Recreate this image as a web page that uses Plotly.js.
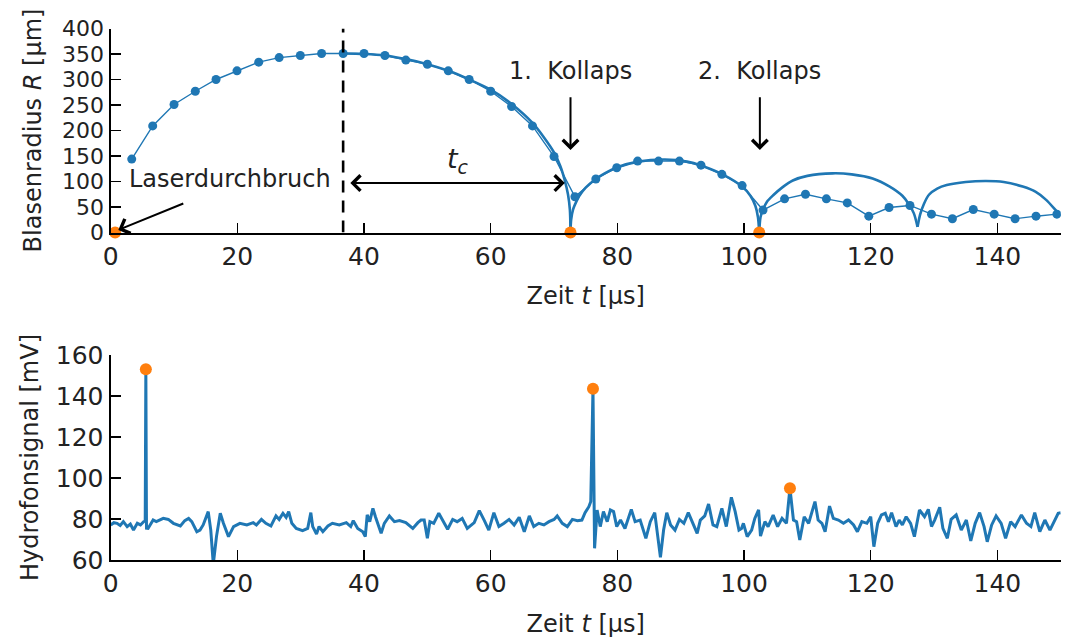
<!DOCTYPE html>
<html>
<head>
<meta charset="utf-8">
<script src="https://cdn.plot.ly/plotly-3.0.1.min.js"></script>
<style>html,body{margin:0;padding:0;background:#fff;}#chart{width:1066px;height:644px;}</style>
</head>
<body>
<div id="chart"></div>
<script>
// ---- Top: bubble radius from high-speed frames ----
const tFrames = [3.32,6.63,10.0,13.36,16.63,19.94,23.37,26.6,29.94,33.3,36.7,40.0,43.3,46.6,50.0,53.3,56.6,60.0,63.3,66.6,70.0,73.3,76.6,79.9,83.2,86.5,89.8,93.2,96.5,99.7,103.0,106.4,109.7,113.0,116.3,119.7,122.9,126.2,129.6,132.9,136.2,139.5,142.8,146.1,149.4];
const rFrames = [144,209,251,277,300,317,334,343,347,351,351,351,347,338,330,317,300,277,247,209,149,70,105,127,140,140,140,132,114,92,44,66,75,66,58,32,49,53,36,27,45,36,27,32,36];

// ---- Top: fitted radius curve, one piece per oscillation ----
const tFit1 = [36.7,40,43.3,46.6,50,53.3,56.6,60,63.3,66.6,68.5,70,71,71.7,72.2,72.5,72.6];
const rFit1 = [351,350,347,340,330,317,300,280,252,215,185,157,130,102,75,45,0];
const tFit2 = [72.6,72.7,73,73.5,74,75,76.6,78,80,83.3,87.5,91,93.3,96.6,99.7,101,101.8,102.2,102.4];
const rFit2 = [0,25,45,60,72,88,105,116,128,139,143,139,131,114,90,72,52,30,0];
const tFit3 = [102.4,102.6,103,103.6,104.6,106,107.7,110,114,117,120.3,123,125,126,126.8,127.4];
const rFit3 = [0,30,45,60,73,88,102,111,116,114,106,90,72,56,38,11];
const tFit4 = [127.4,127.8,128.4,129.2,130.5,132,135,138.2,141,144,146,147.7,149.4,150];
const rFit4 = [11,35,56,74,86,93,99,101,99,90,80,64,41,33];

// ---- Top: breakdown and collapse instants ----
const tEvents = [0.7,72.6,102.4];
const rEvents = [0,0,0];
const tMaxLine = [36.7,36.7];
const rMaxLine = [0,400];

// ---- Bottom: hydrophone signal ----
const tSignal = [0,0.5,1,1.5,2,2.6,3.1,3.6,4.2,4.7,5.2,5.45,5.55,5.65,5.9,6.7,7.2,8.3,9.1,9.9,11.0,11.7,12.3,12.8,13.6,14.1,14.6,15.4,15.8,16.2,16.7,17.3,17.8,18.6,19.4,20.4,21.5,22.5,23.0,23.8,24.5,25.3,26.1,26.6,27.2,27.7,28.1,28.6,29.3,30.3,31.1,31.6,31.9,32.5,32.9,33.5,34.3,35.0,36.1,37.2,37.9,38.3,39.0,39.8,40.2,40.5,40.9,41.4,41.8,42.2,42.7,43.2,44.0,44.8,45.6,46.6,47.7,48.5,49.0,49.5,50.0,50.4,51.0,51.8,52.4,53.2,54.0,54.7,55.5,56.3,57.4,58.2,59.0,59.7,60.5,61.3,62.1,62.9,63.7,64.5,65.3,66.1,66.8,67.6,68.4,69.2,70.0,70.5,71.3,72.1,72.9,73.7,74.4,74.9,75.5,75.8,76.15,76.4,76.8,77.3,77.8,78.4,78.9,79.4,79.9,80.5,81.2,81.8,82.2,82.8,83.6,84.5,85.2,85.9,86.4,86.8,87.3,87.8,88.4,89.1,89.8,90.5,91.2,91.8,92.6,93.1,93.8,94.4,95.1,95.7,96.5,97.2,98.0,98.6,99.2,99.6,99.9,100.5,101.2,101.7,102.3,102.6,103.3,103.8,104.6,105.3,106.0,106.7,107.25,107.8,108.3,108.8,109.5,110.2,110.7,111.2,111.7,112.3,112.8,113.5,114.1,114.9,115.7,116.5,117.3,117.9,118.6,119.4,120.0,120.5,121.1,121.7,122.3,122.8,123.3,124.0,124.5,125.0,125.6,126.3,126.9,127.7,128.5,129.1,129.6,130.1,130.9,131.4,132.1,132.7,133.5,134.3,135.1,135.8,136.5,137.2,137.9,138.4,139.1,139.8,140.6,141.3,142.1,142.8,143.8,144.6,145.3,145.9,146.7,147.5,148.3,149.0,149.6,150];
const vSignal = [77.1,78.2,77.9,76.8,78.7,76.3,77.5,74.6,77.9,77.1,78.7,79,153,75.5,75.4,79.5,78.7,80.3,79.8,77.9,76.6,79.2,80.3,78.7,73.8,74.6,77.1,83.6,74.6,58,71.4,82.8,77.9,71.4,76.3,77.9,77.1,78.2,77.1,79.8,77.9,76.6,81.5,79.8,82.8,80.8,83.6,77.9,75.4,74.3,75.4,83.1,76.3,72.7,76.3,73.8,76.6,77.9,77.1,78.2,76.3,79.2,75.4,73.8,71.4,82,78.7,85.2,81.1,77.9,73,77.9,81.5,78.7,79.2,78.2,75.4,78.2,79.5,79.5,70.6,78.7,77.9,82.8,79.5,75,79.8,78.7,80.3,75.4,78.2,84.1,79.2,74.6,83.1,76.3,77.9,79.8,77.1,80.8,73.8,81.5,76.3,77.9,77.1,78.7,79.8,81.5,77.9,76.3,79.8,79.2,79.5,83.1,86,88.5,143.5,65.7,84.4,76.3,83.6,78.7,84.4,83.6,76.3,79.5,75.4,81.5,84.7,78.7,79.5,70.6,78.7,83.1,71.4,61.3,74.6,83.1,77.1,74.6,79.8,77.9,83.1,78.7,73,79.5,81.5,87.3,77.1,76.3,85.2,76.3,90.6,83.6,74.6,75.4,77.9,71.4,74.6,80.3,84.4,71.7,78.7,76.3,81.9,76.3,80.3,77.9,95,79.5,78.7,69.8,81.1,77.9,83.6,88.5,79.5,77.9,73.8,86.3,80.3,79.5,77.9,79.5,77.1,73.8,78.7,77.9,81.1,66.5,77.9,82,82.8,78.7,83.1,76.3,79.5,77.1,81.1,77.9,71.4,84.4,81.1,84.7,76.3,79.5,85.7,75.4,70.6,79.8,82,74.6,79.5,69.3,77.9,83.1,76.3,68.9,77.1,81.5,77.9,70.6,78.7,76.3,82,77.9,76.3,83.1,73.8,79.5,74.6,79.5,82.8,83];
const tPeaks = [5.55,76.15,107.25];
const vPeaks = [153,143.5,95];

// ---- Tick labels ----
const xTicks = [0,20,40,60,80,100,120,140];
const yTicksTop = [0,50,100,150,200,250,300,350,400];
const yTicksBottom = [60,80,100,120,140,160];

const BLUE = '#1f77b4', ORANGE = '#ff7f0e';
const FONT = 'DejaVu Sans, sans-serif';
const TXT = '#222';

const fitLine = {color: BLUE, width: 2.6, shape: 'spline', smoothing: 0.8};
const traces = [
  {x: tFit1, y: rFit1, xaxis: 'x', yaxis: 'y', mode: 'lines', line: fitLine},
  {x: tFit2, y: rFit2, xaxis: 'x', yaxis: 'y', mode: 'lines', line: fitLine},
  {x: tFit3, y: rFit3, xaxis: 'x', yaxis: 'y', mode: 'lines', line: fitLine},
  {x: tFit4, y: rFit4, xaxis: 'x', yaxis: 'y', mode: 'lines', line: fitLine},
  {x: tFrames, y: rFrames, xaxis: 'x', yaxis: 'y', mode: 'lines+markers', line: {color: BLUE, width: 1.4}, marker: {color: BLUE, size: 9}},
  {x: tMaxLine, y: rMaxLine, xaxis: 'x', yaxis: 'y', mode: 'lines', line: {color: 'black', width: 2.6, dash: '12px,8px'}},
  {x: tEvents, y: rEvents, xaxis: 'x', yaxis: 'y', mode: 'markers', marker: {color: ORANGE, size: 12}, cliponaxis: false},
  {x: tSignal, y: vSignal, xaxis: 'x2', yaxis: 'y2', mode: 'lines', line: {color: BLUE, width: 3}},
  {x: tPeaks, y: vPeaks, xaxis: 'x2', yaxis: 'y2', mode: 'markers', marker: {color: ORANGE, size: 12}, cliponaxis: false}
];

const axisCommon = {
  showline: true, linecolor: 'black', linewidth: 2.2, mirror: false,
  ticks: 'inside', ticklen: 10, tickwidth: 1.5, tickcolor: 'black',
  showgrid: false, zeroline: false, tickfont: {family: FONT, size: 25, color: TXT},
  fixedrange: true
};
const titleFont = {family: FONT, size: 24, color: TXT};

const xDomain = [110.7/1066, 1060.7/1066];
const layout = {
  width: 1066, height: 644,
  margin: {l: 0, r: 0, t: 0, b: 0},
  paper_bgcolor: 'white', plot_bgcolor: 'white',
  showlegend: false,
  font: {family: FONT, size: 24, color: TXT},
  xaxis: Object.assign({}, axisCommon, {domain: xDomain, anchor: 'y', range: [0,150], tickvals: xTicks,
    title: {text: 'Zeit <i>t</i> [µs]', font: titleFont, standoff: 18}}),
  yaxis: Object.assign({}, axisCommon, {domain: [(644-232.5)/644, (644-28.5)/644], anchor: 'x', range: [0,400], tickvals: yTicksTop,
    tickfont: {family: FONT, size: 22, color: TXT},
    title: {text: 'Blasenradius <i>R</i> [µm]', font: titleFont, standoff: 14}}),
  xaxis2: Object.assign({}, axisCommon, {domain: xDomain, anchor: 'y2', range: [0,150], tickvals: xTicks,
    title: {text: 'Zeit <i>t</i> [µs]', font: titleFont, standoff: 18}}),
  yaxis2: Object.assign({}, axisCommon, {domain: [(644-560)/644, (644-355)/644], anchor: 'x2', range: [60,160], tickvals: yTicksBottom,
    title: {text: 'Hydrofonsignal [mV]', font: titleFont, standoff: 10}}),
  annotations: [
    {xref: 'x', yref: 'y', x: 18.9, y: 105, text: 'Laserdurchbruch', showarrow: false, font: titleFont},
    {xref: 'x', yref: 'y', x: 1.2, y: 5, axref: 'x', ayref: 'y', ax: 11.7, ay: 58, text: '', showarrow: true, arrowhead: 4, arrowsize: 1.5, arrowwidth: 2, arrowcolor: 'black'},
    {xref: 'x', yref: 'y', x: 72.6, y: 317, text: '1.  Kollaps', showarrow: false, font: titleFont},
    {xref: 'x', yref: 'y', x: 72.6, y: 162, axref: 'x', ayref: 'y', ax: 72.6, ay: 268, text: '', showarrow: true, arrowhead: 4, arrowsize: 1.5, arrowwidth: 2, arrowcolor: 'black'},
    {xref: 'x', yref: 'y', x: 102.5, y: 317, text: '2.  Kollaps', showarrow: false, font: titleFont},
    {xref: 'x', yref: 'y', x: 102.5, y: 162, axref: 'x', ayref: 'y', ax: 102.5, ay: 268, text: '', showarrow: true, arrowhead: 4, arrowsize: 1.5, arrowwidth: 2, arrowcolor: 'black'},
    {xref: 'x', yref: 'y', x: 71.7, y: 97, axref: 'x', ayref: 'y', ax: 37.6, ay: 97, text: '', showarrow: true, arrowside: 'end+start', arrowhead: 4, startarrowhead: 4, arrowsize: 1.5, startarrowsize: 1.5, arrowwidth: 2, arrowcolor: 'black'},
    {xref: 'x', yref: 'y', x: 54.9, y: 142, text: '<i>t<sub>c</sub></i>', showarrow: false, font: {family: FONT, size: 27, color: TXT}}
  ]
};

Plotly.newPlot('chart', traces, layout, {displayModeBar: false, staticPlot: true});
</script>
</body>
</html>
